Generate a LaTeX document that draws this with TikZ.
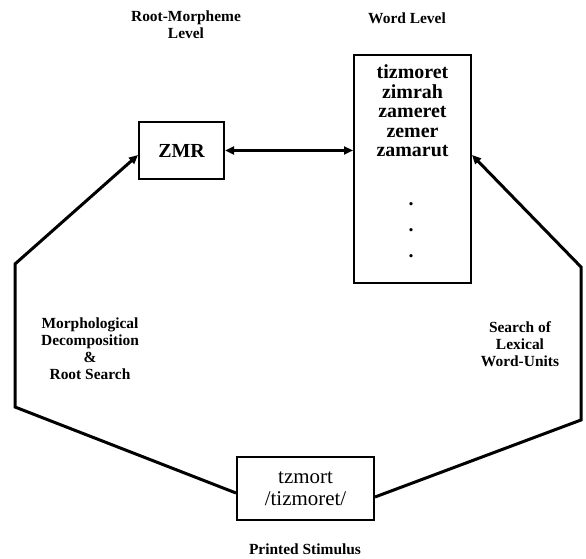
\documentclass[tikz,border=0pt]{standalone}
\usepackage{fontspec}
\setmainfont{Liberation Serif}
\usetikzlibrary{arrows.meta}
\begin{document}
\begin{tikzpicture}[x=1bp,y=-1bp,
  box/.style={draw,line width=2bp,inner sep=0pt,anchor=center},
  lbl/.style={font=\bfseries\fontsize{15.5}{17}\selectfont,align=center,inner sep=0pt},
  conn/.style={line width=3bp},
  tip/.style={-{Triangle[length=9bp,width=8bp]}},
  dtip/.style={{Triangle[length=9bp,width=8bp]}-{Triangle[length=9bp,width=8bp]}}]
\useasboundingbox (0,0) rectangle (586,559);
% boxes
\node[box,minimum width=85bp,minimum height=57bp,font=\bfseries\fontsize{20}{22}\selectfont] (zmr) at (181.5,150.5) {ZMR};
\node[box,minimum width=117bp,minimum height=228bp] (word) at (412.5,169) {};
\node[font=\bfseries\fontsize{20}{19.5}\selectfont,align=center,inner sep=0pt] (words) at (412.5,111) {tizmoret\\zimrah\\zameret\\zemer\\zamarut};
\node[font=\bfseries\fontsize{20}{26}\selectfont,align=center,inner sep=0pt] (dots) at (411,230) {.\\.\\.};
\node[box,minimum width=137bp,minimum height=63bp,font=\fontsize{21}{22}\selectfont,align=center] (tz) at (305.5,488.5) {tzmort\\/tizmoret/};
% labels
\node[lbl] (rml) at (186,25) {Root-Morpheme\\Level};
\node[lbl] (wl) at (407,18) {Word Level};
\node[lbl] (mdl) at (90,348.5) {Morphological\\Decomposition\\\&\\Root Search};
\node[lbl] (swl) at (520,344) {Search of\\Lexical\\Word-Units};
\node[lbl] (ps) at (305,549) {Printed Stimulus};
% waypoints
\coordinate (l1) at (15,407);
\coordinate (l2) at (15,264);
\coordinate (r1) at (581,420);
\coordinate (r2) at (581,267);
% connectors
\draw[conn,dtip] (zmr.east) -- (zmr.east -| word.west);
\draw[conn,tip] ([yshift=-4.5bp]tz.west) -- (l1) -- (l2) -- ([yshift=-4.5bp]zmr.west);
\draw[conn,tip] ([yshift=-8.5bp]tz.east) -- (r1) -- (r2) -- ([yshift=14bp]word.east);
\end{tikzpicture}
\end{document}
